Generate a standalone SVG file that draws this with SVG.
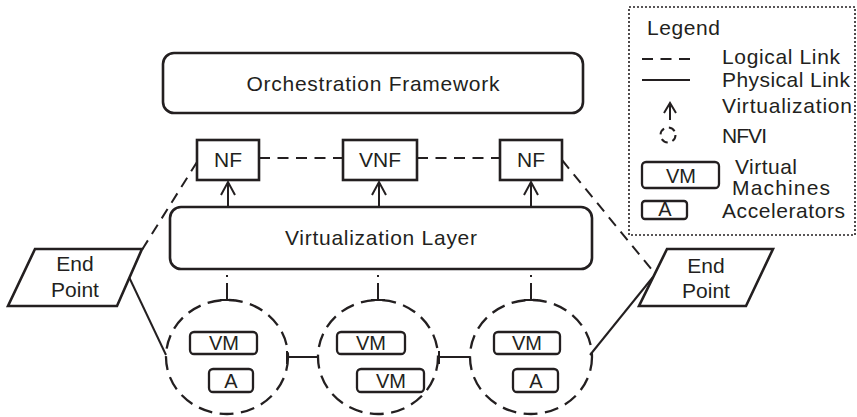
<svg xmlns="http://www.w3.org/2000/svg" width="857" height="417" viewBox="0 0 857 417">
<style>
text{font-family:"Liberation Sans",Arial,sans-serif;fill:#231f20;font-size:21px}
.t19{font-size:20px}
.c{text-anchor:middle}
.box{fill:#fff;stroke:#231f20;stroke-width:2.6}
.sm{fill:#fff;stroke:#231f20;stroke-width:2.3}
.dash{fill:none;stroke:#231f20;stroke-width:2;stroke-dasharray:11 7.5}
.solid{fill:none;stroke:#231f20;stroke-width:2}
.nfvi{fill:none;stroke:#231f20;stroke-width:2.3;stroke-dasharray:14 7.5}
.arr{fill:none;stroke:#231f20;stroke-width:2}
</style>

<g id="connectors">
  <line class="dash" x1="259" y1="158" x2="343" y2="158"/>
  <line class="dash" x1="417" y1="158" x2="500" y2="158"/>
  <line class="dash" x1="197" y1="162" x2="140" y2="253"/>
  <line class="dash" x1="562" y1="160" x2="652" y2="270"/>
  <line class="solid" x1="129" y1="277" x2="166" y2="355"/>
  <line class="solid" x1="590" y1="355" x2="653" y2="277"/>
  <line class="solid" x1="287" y1="357" x2="318" y2="357"/>
  <line class="solid" x1="287" y1="351" x2="287" y2="364"/>
  <line class="solid" x1="439" y1="357" x2="470" y2="357"/>
  <line class="solid" x1="439" y1="351" x2="439" y2="364"/>
  <g class="arr">
    <path d="M228 207V182M221 195L228 182L235 195"/>
    <path d="M379 207V182M372 195L379 182L386 195"/>
    <path d="M531 207V182M524 195L531 182L538 195"/>
  </g>
  <g class="arr">
    <path d="M227 275V277M227 283V300M220 300H234"/>
    <path d="M378 275V277M378 283V300M371 300H385"/>
    <path d="M531 275V277M531 283V300M524 300H538"/>
  </g>
</g>

<g id="orchestration">
  <rect class="box" x="163" y="53" width="420" height="60" rx="11"/>
  <text class="c" x="373" y="91" textLength="253" lengthAdjust="spacing">Orchestration Framework</text>
</g>
<g id="nf-left">
  <rect class="box" x="197" y="140" width="62" height="40"/>
  <text class="c" x="228" y="167">NF</text>
</g>
<g id="vnf">
  <rect class="box" x="343" y="140" width="74" height="40"/>
  <text class="c" x="380" y="167">VNF</text>
</g>
<g id="nf-right">
  <rect class="box" x="500" y="140" width="62" height="40"/>
  <text class="c" x="531" y="167">NF</text>
</g>
<g id="virtualization-layer">
  <rect class="box" x="170" y="207" width="422" height="62" rx="11"/>
  <text class="c" x="381" y="245" textLength="192" lengthAdjust="spacing">Virtualization Layer</text>
</g>
<g id="endpoint-left">
  <polygon class="box" points="35,249 142,249 117,306 8,306"/>
  <text class="c" x="75" y="271">End</text>
  <text class="c" x="75" y="297">Point</text>
</g>
<g id="endpoint-right">
  <polygon class="box" points="667,249 773,249 746,306 639,306"/>
  <text class="c" x="706" y="273">End</text>
  <text class="c" x="706" y="298">Point</text>
</g>

<g id="nfvi-left">
  <ellipse class="nfvi" cx="227" cy="357" rx="61" ry="57"/>
  <rect class="sm" x="190" y="332" width="67" height="22" rx="4"/>
  <text class="t19 c" x="224" y="350">VM</text>
  <rect class="sm" x="209" y="369" width="44" height="23" rx="4"/>
  <text class="t19 c" x="231" y="388">A</text>
</g>
<g id="nfvi-middle">
  <ellipse class="nfvi" cx="378" cy="357" rx="60" ry="57"/>
  <rect class="sm" x="337" y="332" width="68" height="22" rx="4"/>
  <text class="t19 c" x="371" y="350">VM</text>
  <rect class="sm" x="357" y="369" width="67" height="23" rx="4"/>
  <text class="t19 c" x="391" y="388">VM</text>
</g>
<g id="nfvi-right">
  <ellipse class="nfvi" cx="531" cy="357" rx="61" ry="57"/>
  <rect class="sm" x="494" y="332" width="66" height="22" rx="4"/>
  <text class="t19 c" x="527" y="350">VM</text>
  <rect class="sm" x="513" y="369" width="45" height="23" rx="4"/>
  <text class="t19 c" x="536" y="388">A</text>
</g>

<g id="legend">
  <rect x="629" y="7" width="226" height="228" fill="none" stroke="#231f20" stroke-width="1.6" stroke-dasharray="2 2"/>
  <text x="647" y="35" textLength="73" lengthAdjust="spacing">Legend</text>
  <line class="dash" x1="642" y1="59" x2="690" y2="59"/>
  <text x="722" y="64" textLength="118" lengthAdjust="spacing">Logical Link</text>
  <line class="solid" x1="642" y1="80" x2="690" y2="80"/>
  <text x="722" y="87" textLength="128" lengthAdjust="spacing">Physical Link</text>
  <path class="arr" d="M670 120V103M664 113L670 103L676 113"/>
  <text x="722" y="113" textLength="130" lengthAdjust="spacing">Virtualization</text>
  <circle cx="668" cy="135" r="7.5" fill="none" stroke="#231f20" stroke-width="2" stroke-dasharray="7 5"/>
  <text x="722" y="143" textLength="45" lengthAdjust="spacing">NFVI</text>
  <rect class="sm" x="642" y="162" width="77" height="26" rx="4"/>
  <text class="t19 c" x="681" y="183">VM</text>
  <text x="735" y="174" textLength="62" lengthAdjust="spacing">Virtual</text>
  <text x="732" y="195" textLength="98" lengthAdjust="spacing">Machines</text>
  <rect class="sm" x="642" y="201" width="45" height="18" rx="3"/>
  <text class="t19 c" x="665" y="216">A</text>
  <text x="722" y="218" textLength="123" lengthAdjust="spacing">Accelerators</text>
</g>
</svg>
